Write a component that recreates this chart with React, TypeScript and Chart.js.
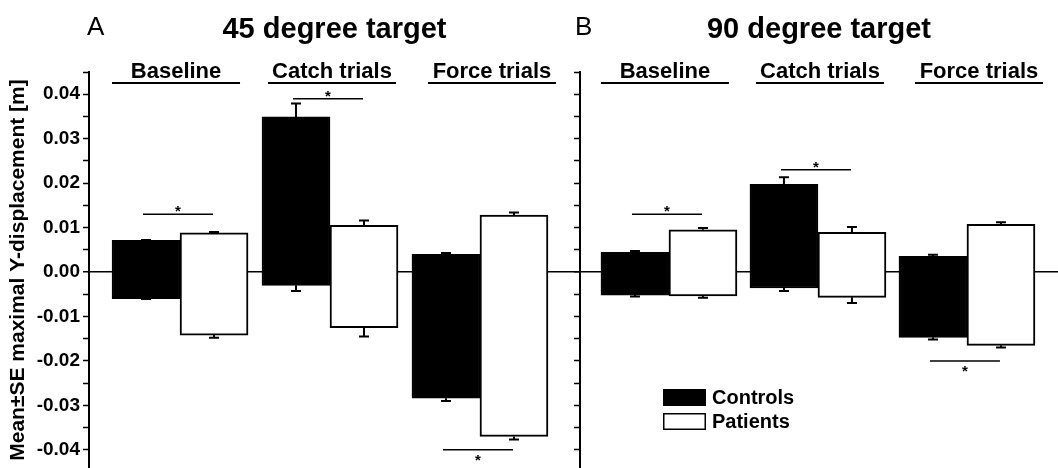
import React, { useEffect, useRef } from 'react';
import { Chart, registerables } from 'chart.js';

Chart.register(...registerables);

const FONT = '"Liberation Sans", Arial, Helvetica, sans-serif';

const GROUPS = ['Baseline', 'Catch trials', 'Force trials'];
const GROUP_X = [1, 2, 3];
const SERIES = ['Controls', 'Patients'];

// 45 degree target
const CTRL_45_LOW = [-0.006, -0.003, -0.0284];
const CTRL_45_HIGH = [0.0071, 0.0349, 0.004];
const CTRL_45_SE_LOW = [0.0001, 0.0013, 0.0006];
const CTRL_45_SE_HIGH = [0.0001, 0.003, 0.0003];
const PAT_45_LOW = [-0.0142, -0.0125, -0.037];
const PAT_45_HIGH = [0.0088, 0.0105, 0.0128];
const PAT_45_SE_LOW = [0.0006, 0.002, 0.0007];
const PAT_45_SE_HIGH = [0.0002, 0.0011, 0.0006];
const SIG_45 = [0.013, 0.039, -0.04];

// 90 degree target
const CTRL_90_LOW = [-0.0052, -0.0036, -0.0147];
const CTRL_90_HIGH = [0.0044, 0.0197, 0.0035];
const CTRL_90_SE_LOW = [0.0003, 0.0007, 0.0005];
const CTRL_90_SE_HIGH = [0.0003, 0.0016, 0.0004];
const PAT_90_LOW = [-0.0054, -0.0057, -0.0165];
const PAT_90_HIGH = [0.0095, 0.0089, 0.0107];
const PAT_90_SE_LOW = [0.0004, 0.0013, 0.0005];
const PAT_90_SE_HIGH = [0.0004, 0.0012, 0.0005];
const SIG_90 = [0.013, 0.023, -0.02];

const Y_MAX = 0.045;
const Y_MIN = -0.0441;
const Y_STEP = 0.005;
const Y_TITLE = 'Mean\u00B1SE maximal Y-displacement [m]';

type Panel = {
  letter: string;
  title: string;
  ctrlLow: number[]; ctrlHigh: number[]; ctrlSeLow: number[]; ctrlSeHigh: number[];
  patLow: number[]; patHigh: number[]; patSeLow: number[]; patSeHigh: number[];
  sig: number[];
  left: number; width: number; axisWidth: number;
  xMin: number; xMax: number;
  labels: boolean; legend: boolean; letterShift: number;
};

const PANELS: Panel[] = [
  {
    letter: 'A', title: '45 degree target',
    ctrlLow: CTRL_45_LOW, ctrlHigh: CTRL_45_HIGH, ctrlSeLow: CTRL_45_SE_LOW, ctrlSeHigh: CTRL_45_SE_HIGH,
    patLow: PAT_45_LOW, patHigh: PAT_45_HIGH, patSeLow: PAT_45_SE_LOW, patSeHigh: PAT_45_SE_HIGH,
    sig: SIG_45, left: 0, width: 580, axisWidth: 89, xMin: 0.393, xMax: 3.667,
    labels: true, legend: false, letterShift: -2,
  },
  {
    letter: 'B', title: '90 degree target',
    ctrlLow: CTRL_90_LOW, ctrlHigh: CTRL_90_HIGH, ctrlSeLow: CTRL_90_SE_LOW, ctrlSeHigh: CTRL_90_SE_HIGH,
    patLow: PAT_90_LOW, patHigh: PAT_90_HIGH, patSeLow: PAT_90_SE_LOW, patSeHigh: PAT_90_SE_HIGH,
    sig: SIG_90, left: 560, width: 498, axisWidth: 20, xMin: 0.403, xMax: 3.611,
    labels: false, legend: true, letterShift: -5,
  },
];

const LABEL_SHIFT = [-4, 2, 12];

function makeAnnotPlugin(p: Panel) {
  return {
    id: 'annot' + p.letter,
    afterDatasetsDraw(chart: any) {
      const { ctx, chartArea: ca, scales } = chart;
      const x = scales.x;
      const y = scales.y;
      ctx.save();
      ctx.strokeStyle = '#000';
      ctx.fillStyle = '#000';

      // error bars
      chart.data.datasets.forEach((ds: any, di: number) => {
        const meta = chart.getDatasetMeta(di);
        meta.data.forEach((bar: any, j: number) => {
          const bx = bar.x;
          const hiPix = y.getPixelForValue(ds.high[j]);
          const hiTip = y.getPixelForValue(ds.high[j] + ds.seHigh[j]);
          const loPix = y.getPixelForValue(ds.low[j]);
          const loTip = y.getPixelForValue(ds.low[j] - ds.seLow[j]);
          ctx.lineWidth = 2;
          ctx.beginPath();
          ctx.moveTo(bx, hiPix); ctx.lineTo(bx, hiTip);
          ctx.moveTo(bx - 5, hiTip); ctx.lineTo(bx + 5, hiTip);
          ctx.moveTo(bx, loPix); ctx.lineTo(bx, loTip);
          ctx.moveTo(bx - 5, loTip); ctx.lineTo(bx + 5, loTip);
          ctx.stroke();
        });
      });

      // group labels with underline
      ctx.font = `bold 22px ${FONT}`;
      ctx.textAlign = 'center';
      ctx.textBaseline = 'alphabetic';
      GROUPS.forEach((g, i) => {
        const cx = x.getPixelForValue(GROUP_X[i]) + LABEL_SHIFT[i];
        ctx.fillText(g, cx, ca.top + 6);
        ctx.lineWidth = 2;
        ctx.beginPath();
        ctx.moveTo(cx - 64, ca.top + 11);
        ctx.lineTo(cx + 64, ca.top + 11);
        ctx.stroke();
      });

      // significance lines
      p.sig.forEach((v, i) => {
        const cx = x.getPixelForValue(GROUP_X[i]) - 2;
        const py = y.getPixelForValue(v);
        ctx.lineWidth = 1.5;
        ctx.beginPath();
        ctx.moveTo(cx - 35, py);
        ctx.lineTo(cx + 35, py);
        ctx.stroke();
        ctx.font = `bold 15px ${FONT}`;
        ctx.textAlign = 'center';
        ctx.textBaseline = 'alphabetic';
        ctx.fillText('*', cx, v > 0 ? py + 2 : py + 15);
      });

      // panel title and letter
      ctx.font = `bold 29px ${FONT}`;
      ctx.textAlign = 'center';
      ctx.fillText(p.title, (ca.left + ca.right) / 2, 38);
      ctx.font = `26px ${FONT}`;
      ctx.textAlign = 'left';
      ctx.fillText(p.letter, ca.left + p.letterShift, 35);

      // legend
      if (p.legend) {
        const lx = ca.left + 83;
        const tops = [389, 413];
        chart.data.datasets.forEach((ds: any, di: number) => {
          const ty = tops[di];
          ctx.fillStyle = ds.backgroundColor;
          ctx.fillRect(lx, ty, 43, 17);
          ctx.lineWidth = 1.5;
          ctx.strokeStyle = '#000';
          ctx.strokeRect(lx + 0.75, ty + 0.75, 41.5, 15.5);
          ctx.fillStyle = '#000';
          ctx.font = `bold 20px ${FONT}`;
          ctx.textAlign = 'left';
          ctx.textBaseline = 'middle';
          ctx.fillText(ds.label, lx + 49, ty + 9);
        });
      }
      ctx.restore();
    },
  };
}

function PanelChart({ p }: { p: Panel }) {
  const ref = useRef<HTMLCanvasElement>(null);
  useEffect(() => {
    if (!ref.current) return;
    const chart = new Chart(ref.current, {
      type: 'bar',
      data: {
        datasets: [
          {
            label: SERIES[0],
            data: GROUP_X.map((gx, i) => ({ x: gx, y: [p.ctrlLow[i], p.ctrlHigh[i]] })) as any,
            backgroundColor: '#000000',
            borderColor: '#000000',
            borderWidth: 1.5,
            borderSkipped: false,
            barThickness: 68,
            low: p.ctrlLow, high: p.ctrlHigh, seLow: p.ctrlSeLow, seHigh: p.ctrlSeHigh,
          } as any,
          {
            label: SERIES[1],
            data: GROUP_X.map((gx, i) => ({ x: gx, y: [p.patLow[i], p.patHigh[i]] })) as any,
            backgroundColor: '#ffffff',
            borderColor: '#000000',
            borderWidth: 2,
            borderSkipped: false,
            barThickness: 68,
            low: p.patLow, high: p.patHigh, seLow: p.patSeLow, seHigh: p.patSeHigh,
          } as any,
        ],
      },
      options: {
        responsive: false,
        animation: false,
        layout: { padding: { top: 72, left: 0, right: 0, bottom: 0 } },
        plugins: { legend: { display: false }, tooltip: { enabled: false }, title: { display: false } },
        scales: {
          x: {
            type: 'linear',
            display: false,
            offset: false,
            min: p.xMin,
            max: p.xMax,
            ticks: { stepSize: 1, includeBounds: false },
          },
          y: {
            type: 'linear',
            min: Y_MIN,
            max: Y_MAX,
            afterFit: (s: any) => {
              s.width = p.axisWidth;
              s.paddingTop = 0;
              s.paddingBottom = 0;
            },
            border: { display: true, color: '#000', width: 2 },
            grid: {
              drawOnChartArea: true,
              drawTicks: true,
              tickLength: 6,
              tickColor: '#000',
              tickWidth: 1.5,
              color: (c: any) => (c.tick && Math.abs(c.tick.value) < 1e-9 ? '#000' : 'rgba(0,0,0,0)'),
              lineWidth: (c: any) => (c.tick && Math.abs(c.tick.value) < 1e-9 ? 1.5 : 1),
            },
            ticks: {
              stepSize: Y_STEP,
              includeBounds: false,
              autoSkip: false,
              padding: 3,
              color: '#000',
              font: { family: FONT, size: 19, weight: 'bold' },
              callback: (v: any) => {
                if (!p.labels) return '';
                const n = Math.round(Number(v) * 1000);
                return n % 10 === 0 ? (Math.abs(n) < 1e-9 ? '0.00' : Number(v).toFixed(2)) : '';
              },
            },
            title: {
              display: p.labels,
              text: Y_TITLE,
              color: '#000',
              font: { family: FONT, size: 21, weight: 'bold' },
              padding: { top: 6, bottom: 4 },
            },
          },
        },
      } as any,
      plugins: [makeAnnotPlugin(p)],
    });
    return () => chart.destroy();
  }, [p]);
  return (
    <canvas
      ref={ref}
      width={p.width}
      height={468}
      style={{ position: 'absolute', left: p.left, top: 0, width: p.width, height: 468 }}
    />
  );
}

export default function App() {
  return (
    <div style={{ position: 'absolute', left: 0, top: 0, width: 1058, height: 468, background: '#fff', overflow: 'hidden' }}>
      {PANELS.map((p) => (
        <PanelChart key={p.letter} p={p} />
      ))}
    </div>
  );
}
